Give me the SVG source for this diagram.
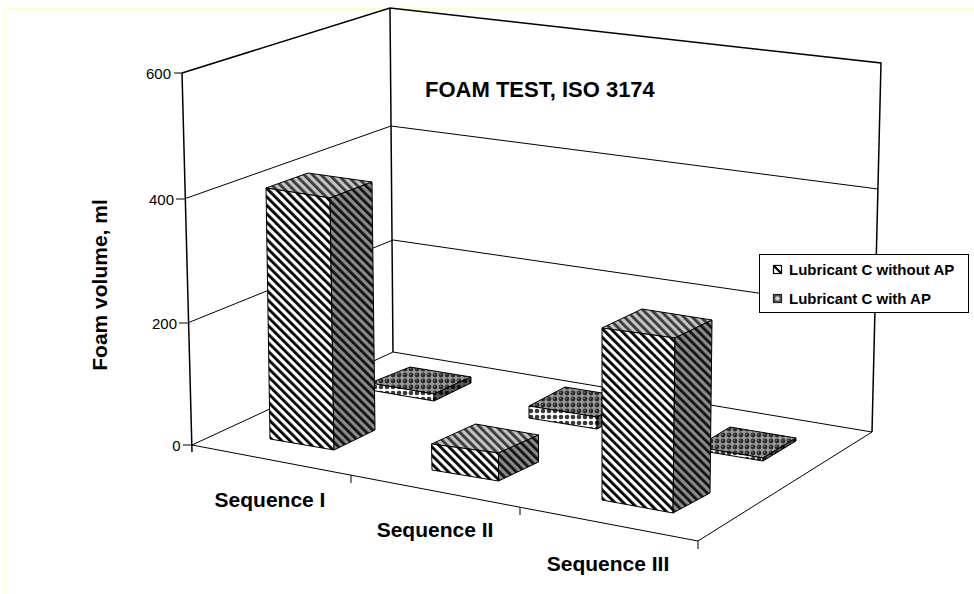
<svg xmlns="http://www.w3.org/2000/svg" width="974" height="594" viewBox="0 0 974 594">
<defs>
<pattern id="hFront" width="6" height="6" patternUnits="userSpaceOnUse" patternTransform="rotate(-45)">
<rect width="6" height="6" fill="#fff"/><rect width="2.8" height="6" fill="#000"/>
</pattern>
<pattern id="hTop" width="6" height="6" patternUnits="userSpaceOnUse" patternTransform="rotate(-45)">
<rect width="6" height="6" fill="#c4c4c4"/><rect width="2.8" height="6" fill="#3a3a3a"/>
</pattern>
<pattern id="hSide" width="6" height="6" patternUnits="userSpaceOnUse" patternTransform="rotate(-45)">
<rect width="6" height="6" fill="#8a8a8a"/><rect width="2.8" height="6" fill="#111"/>
</pattern>
<pattern id="dTop" width="6" height="6" patternUnits="userSpaceOnUse">
<rect width="6" height="6" fill="#9a9a9a"/><circle cx="3" cy="3" r="2.4" fill="#2c2c2c"/><circle cx="2.3" cy="2.3" r="0.8" fill="#7a7a7a"/>
</pattern>
<pattern id="dFront" width="6" height="6" patternUnits="userSpaceOnUse">
<rect width="6" height="6" fill="#fff"/><circle cx="3" cy="3" r="2.3" fill="#3a3a3a"/>
</pattern>
<pattern id="dSide" width="6" height="6" patternUnits="userSpaceOnUse">
<rect width="6" height="6" fill="#5a5a5a"/><circle cx="3" cy="3" r="2.3" fill="#111"/>
</pattern>
</defs>
<style>
.ln{stroke:#000;fill:none;stroke-width:1}
.ax{stroke:#000;fill:none;stroke-width:1.5}
.face{stroke:#000;stroke-width:1;stroke-linejoin:round}
.bt{font-family:"Liberation Sans",Arial,sans-serif;font-weight:bold;fill:#000}
.tk{font-family:"Liberation Sans",Arial,sans-serif;font-size:15px;fill:#000;text-anchor:end}
</style>
<rect width="974" height="594" fill="#fff"/>
<rect x="4.5" y="8.5" width="990" height="600" fill="none" stroke="#ffffc4" stroke-width="1.2"/>

<g id="walls">
<path class="ln" d="M184,199 L391,126 L878,189 M187.5,323 L393,240 L875,310"/>
<path class="ax" d="M182,73 L390,8 L881,63 L872,432 M182,73 L192,452 M390,8 L393,352"/>
<path class="ln" d="M192,445 L393,352 L872,432 L698,541 Z" stroke-width="1.3"/>
<path class="ln" d="M351,475 v8 M520,507 v8 M698,541 v8 M174,73 H182 M176,199 H184 M179,323 H187.5 M183,445 H192"/>
</g>

<g id="axis-labels">
<text class="tk" x="171" y="78.5">600</text>
<text class="tk" x="174" y="204.5">400</text>
<text class="tk" x="177" y="328.5">200</text>
<text class="tk" x="180.5" y="450.5">0</text>
<text class="bt" font-size="21" text-anchor="middle" transform="translate(107,285) rotate(-90)">Foam volume, ml</text>
<text class="bt" font-size="21" text-anchor="middle" x="270" y="507">Sequence I</text>
<text class="bt" font-size="21" text-anchor="middle" x="435" y="537">Sequence II</text>
<text class="bt" font-size="21" text-anchor="middle" x="608" y="571">Sequence III</text>
</g>

<g id="title"><text class="bt" font-size="22" x="425" y="97">FOAM TEST, ISO 3174</text></g>

<g id="pad-seq1-with-ap">
<polygon class="face" fill="url(#dTop)" points="370,383 410,367 471,377 434,394"/>
<polygon class="face" fill="url(#dFront)" points="370,383 434,394 434,401 370,390"/>
<polygon class="face" fill="url(#dSide)" points="434,394 471,377 471,383 434,401"/>
</g>
<g id="pad-seq2-with-ap">
<polygon class="face" fill="url(#dTop)" points="529,406 565,387 633,398 597,417"/>
<polygon class="face" fill="url(#dFront)" points="529,406 597,417 597,429 529,418"/>
<polygon class="face" fill="url(#dSide)" points="597,417 633,398 633,410 597,429"/>
</g>
<g id="pad-seq3-with-ap">
<polygon class="face" fill="url(#dTop)" points="697,447 730,427 796,438 763,458"/>
<polygon class="face" fill="url(#dFront)" points="697,447 763,458 763,461 697,450"/>
<polygon class="face" fill="url(#dSide)" points="763,458 796,438 796,441 763,461"/>
</g>

<g id="bar-seq1-without-ap">
<polygon class="face" fill="url(#hTop)" points="266,188 308,173 372,182 330,198"/>
<polygon class="face" fill="url(#hFront)" points="266,188 330,198 334,450 270,439"/>
<polygon class="face" fill="url(#hSide)" points="330,198 372,182 375,430 334,450"/>
</g>
<g id="bar-seq2-without-ap">
<polygon class="face" fill="url(#hTop)" points="431.5,444 475.5,424 538.5,435 498.5,453"/>
<polygon class="face" fill="url(#hFront)" points="431.5,444 498.5,453 498.5,481 432,470"/>
<polygon class="face" fill="url(#hSide)" points="498.5,453 538.5,435 538.5,462 498.5,481"/>
</g>
<g id="bar-seq3-without-ap">
<polygon class="face" fill="url(#hTop)" points="602,328 642,309 712,320 675,338"/>
<polygon class="face" fill="url(#hFront)" points="602,328 675,338 673,513 602,500"/>
<polygon class="face" fill="url(#hSide)" points="675,338 712,320 710,493 673,513"/>
</g>

<g id="legend">
<rect x="759.5" y="254.5" width="209" height="58" fill="#fff" stroke="#000" stroke-width="1"/>
<rect x="773.5" y="265.5" width="8" height="8" fill="#fff" stroke="#000" stroke-width="1.2"/>
<path d="M774,266 L781,273" stroke="#000" stroke-width="2.2"/>
<text class="bt" font-size="15" x="789" y="275">Lubricant C without AP</text>
<rect x="773.5" y="294.5" width="8" height="8" fill="#555" stroke="#222" stroke-width="1.2"/>
<circle cx="777.5" cy="298.5" r="2.3" fill="#d0d0d0"/>
<text class="bt" font-size="15" x="789" y="304">Lubricant C with AP</text>
</g>
</svg>
